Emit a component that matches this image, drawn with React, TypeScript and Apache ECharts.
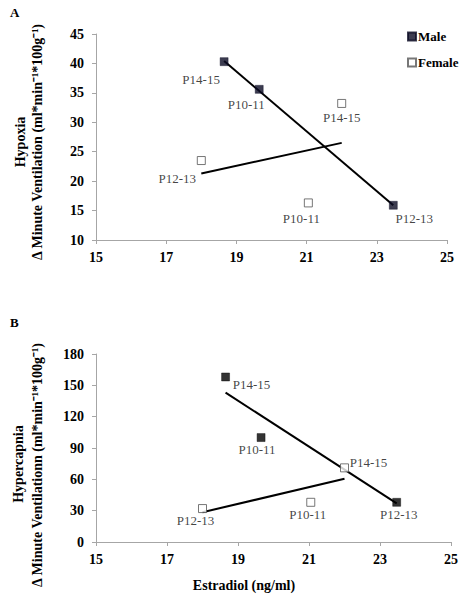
import React, { useEffect, useRef } from "react";
import * as echarts from "echarts";

const FONT = "Liberation Serif";

const xTicks = [15, 17, 19, 21, 23, 25];

// Panel A (Hypoxia)
const maleA: [number, number, string][] = [
  [18.65, 40.3, "P14-15"],
  [19.65, 35.6, "P10-11"],
  [23.47, 15.9, "P12-13"],
];
const femaleA: [number, number, string][] = [
  [18.0, 23.5, "P12-13"],
  [21.05, 16.3, "P10-11"],
  [22.0, 33.2, "P14-15"],
];
const maleTrendA = [
  [18.65, 40.4],
  [23.47, 15.9],
];
const femaleTrendA = [
  [18.0, 21.3],
  [22.0, 26.5],
];

// Panel B (Hypercapnia)
const maleB: [number, number, string][] = [
  [18.65, 158, "P14-15"],
  [19.65, 100, "P10-11"],
  [23.47, 38, "P12-13"],
];
const femaleB: [number, number, string][] = [
  [18.0, 32, "P12-13"],
  [21.05, 38, "P10-11"],
  [22.0, 71, "P14-15"],
];
const maleTrendB = [
  [18.65, 143],
  [23.47, 37],
];
const femaleTrendB = [
  [18.0, 28.5],
  [22.0, 60.5],
];

// label placement (offset from point centre), kept apart from the data
const labelOffsetsMaleA = [[-23, 18], [-13, 15], [21, 13]];
const labelOffsetsFemaleA = [[-24, 18], [-7, 16], [0, 14]];
const labelOffsetsMaleB = [[26, 8], [-4, 12], [2, 12]];
const labelOffsetsFemaleB = [[-7, 12], [-3, 12], [24, -5]];

const axisGray = "#a6a6a6";

function xAxis(gridIndex: number) {
  return {
    type: "value",
    gridIndex,
    min: xTicks[0],
    max: xTicks[xTicks.length - 1],
    interval: 2,
    axisLine: { show: true, onZero: false, lineStyle: { color: axisGray, width: 1 } },
    axisTick: { show: true, length: 4, lineStyle: { color: axisGray } },
    splitLine: { show: false },
    axisLabel: {
      fontFamily: FONT,
      fontWeight: "bold",
      fontSize: 14,
      color: "#000",
      margin: 10,
    },
  };
}

function yAxis(gridIndex: number, min: number, max: number, interval: number) {
  return {
    type: "value",
    gridIndex,
    min,
    max,
    interval,
    axisLine: { show: true, onZero: false, lineStyle: { color: axisGray, width: 1 } },
    axisTick: { show: true, length: 4, lineStyle: { color: axisGray } },
    splitLine: { show: false },
    axisLabel: {
      fontFamily: FONT,
      fontWeight: "bold",
      fontSize: 14,
      color: "#000",
      margin: 12,
    },
  };
}

function scatter(
  name: string,
  pts: [number, number, string][],
  offsets: number[][],
  idx: number,
  filled: boolean,
  fillColor: string
) {
  return {
    type: "scatter",
    name,
    xAxisIndex: idx,
    yAxisIndex: idx,
    symbol: "rect",
    symbolSize: 8,
    z: 5,
    itemStyle: filled
      ? { color: fillColor, borderColor: fillColor, borderWidth: 0.5 }
      : { color: "#ffffff", borderColor: "#555555", borderWidth: 1 },
    data: pts.map((p, i) => ({
      value: [p[0], p[1]],
      label: {
        show: true,
        formatter: p[2],
        position: "inside",
        align: "center",
        verticalAlign: "middle",
        offset: offsets[i],
        fontFamily: FONT,
        fontSize: 13,
        color: "#111",
      },
    })),
  };
}

function trend(name: string, pts: number[][], idx: number) {
  return {
    type: "line",
    name,
    xAxisIndex: idx,
    yAxisIndex: idx,
    data: pts,
    symbol: "none",
    z: 3,
    lineStyle: { color: "#000", width: 2 },
    silent: true,
  };
}

function vText(text: string, x: number, y: number, size: number) {
  return {
    type: "text",
    x,
    y,
    rotation: Math.PI / 2,
    style: {
      text,
      fontFamily: FONT,
      fontWeight: "bold",
      fontSize: size,
      fill: "#000",
      align: "center",
      verticalAlign: "middle",
    },
  };
}

export default function App() {
  const ref = useRef<HTMLDivElement>(null);
  useEffect(() => {
    if (!ref.current) return;
    const chart = echarts.init(ref.current, undefined, { renderer: "svg" });
    chart.setOption({
      animation: false,
      backgroundColor: "#ffffff",
      grid: [
        { left: 96, top: 34, width: 351, height: 206 },
        { left: 96, top: 354, width: 355, height: 188 },
      ],
      xAxis: [xAxis(0), xAxis(1)],
      yAxis: [yAxis(0, 10, 45, 5), yAxis(1, 0, 180, 30)],
      legend: {
        left: 402,
        top: 25,
        orient: "vertical",
        itemGap: 13,
        itemWidth: 8,
        itemHeight: 8,
        selectedMode: false,
        textStyle: { fontFamily: FONT, fontWeight: "bold", fontSize: 13, color: "#000", padding: [0, 0, 0, -3] },
        data: [
          { name: "Male", icon: "rect" },
          { name: "Female", icon: "rect" },
        ],
      },
      series: [
        trend("maleTrendA", maleTrendA, 0),
        trend("femaleTrendA", femaleTrendA, 0),
        scatter("Male", maleA, labelOffsetsMaleA, 0, true, "#0b0b24"),
        scatter("Female", femaleA, labelOffsetsFemaleA, 0, false, "#fff"),
        trend("maleTrendB", maleTrendB, 1),
        trend("femaleTrendB", femaleTrendB, 1),
        scatter("Male", maleB, labelOffsetsMaleB, 1, true, "#000000"),
        scatter("Female", femaleB, labelOffsetsFemaleB, 1, false, "#fff"),
      ],
      graphic: [
        {
          type: "text",
          x: 10,
          y: 6,
          style: { text: "A", fontFamily: FONT, fontWeight: "bold", fontSize: 13, fill: "#000" },
        },
        {
          type: "text",
          x: 10,
          y: 316,
          style: { text: "B", fontFamily: FONT, fontWeight: "bold", fontSize: 13, fill: "#000" },
        },
        vText("Hypoxia", 20, 142, 14),
        vText("Δ Minute Ventilation (ml*min⁻¹*100g⁻¹)", 37, 142, 14),
        vText("Hypercapnia", 18, 464, 14),
        vText("Δ Minute Ventilationn (ml*min⁻¹*100g⁻¹)", 37, 465, 14),
        {
          type: "text",
          x: 244,
          y: 585,
          style: {
            text: "Estradiol (ng/ml)",
            fontFamily: FONT,
            fontWeight: "bold",
            fontSize: 14,
            fill: "#000",
            align: "center",
            verticalAlign: "middle",
          },
        },
      ],
    });
    return () => chart.dispose();
  }, []);
  return <div ref={ref} style={{ width: 467, height: 600, position: "absolute", left: 0, top: 0 }} />;
}
